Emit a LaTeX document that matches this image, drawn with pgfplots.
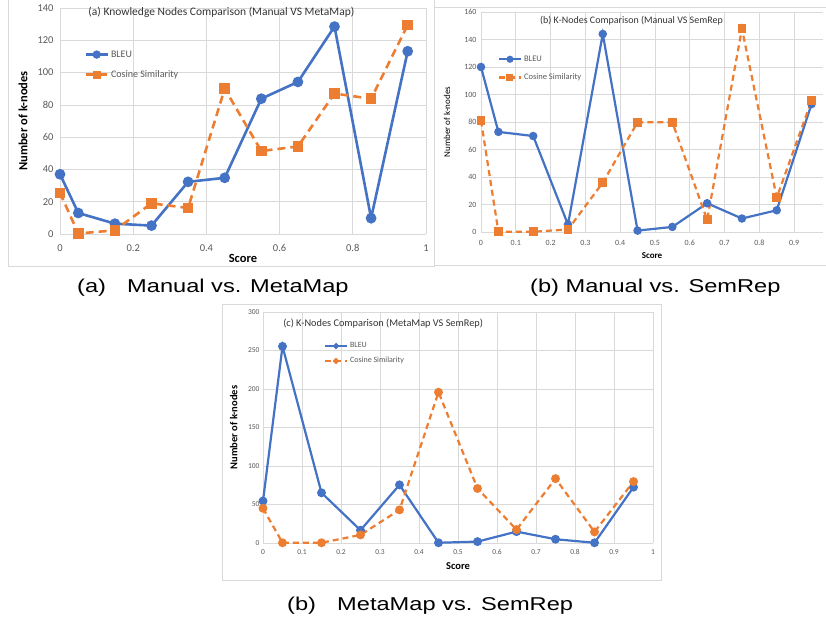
\documentclass[border=0pt]{standalone}
\usepackage{pgfplots}
\pgfplotsset{compat=1.18}
\usepackage{graphicx}
\usepackage{fontspec}
\setmainfont{Carlito}
\newfontfamily\arialfont{Liberation Sans}
\definecolor{cblue}{HTML}{4472C4}
\definecolor{corange}{HTML}{ED7D31}
\definecolor{gridc}{HTML}{D9D9D9}
\definecolor{tickc}{HTML}{595959}
\definecolor{framec}{HTML}{D9D9D9}

\pgfplotstableread{
x     bleu   cos
0     37     25.5
0.05  13     0.3
0.15  6.4    2.3
0.25  5.2    19
0.35  32.3   16.1
0.45  34.8   90
0.55  83.8   51.4
0.65  94.2   54.2
0.75  128.5  87
0.85  9.8    83.8
0.95  113.2  129.5
}\dataA
\pgfplotstableread{
x     bleu   cos
0     120    81
0.05  72.8   0.2
0.15  69.8   0.2
0.25  5.4    1.8
0.35  144    35.9
0.45  1      79.8
0.55  3.7    79.8
0.65  20.9   8.8
0.75  9.8    147.8
0.85  15.8   25
0.95  93     95.6
}\dataB
\pgfplotstableread{
x     bleu   cos
0     54.6   45
0.05  255.4  0.3
0.15  65.2   0.3
0.25  16.6   10.5
0.35  75.5   43
0.45  0.3    195.8
0.55  1.8    70.8
0.65  14.8   17.4
0.75  4.9    83.6
0.85  0.3    14.4
0.95  72.5   79.8
}\dataC

\pgfplotsset{
  excel/.style={
    scale only axis,
    anchor=south west,
    axis x line*=bottom,
    axis y line*=left,
    y axis line style={draw=none},
    x axis line style={draw=gridc, line width=0.8pt},
    major tick length=0pt,
    grid=major,
    grid style={gridc, line width=0.7pt},
    ticklabel style={text=tickc},
    /pgf/number format/assume math mode=true,
    clip=false,
    legend cell align=left,
  },
  legmark/.style={legend image code/.code={\draw[mark repeat=2,mark phase=2,##1,mark size=#1] plot coordinates {(0pt,0pt) (11pt,0pt) (22pt,0pt)};}},
}

\begin{document}
\begin{tikzpicture}[x=1pt,y=1pt]
\path[use as bounding box] (0,0) rectangle (826,618);
% frames
\draw[framec, line width=0.8pt] (8,618) -- (8,352) -- (434,352) -- (434,618);
\draw[framec, line width=0.8pt] (434,353) -- (434,611) -- (826,611);
\draw[framec, line width=0.8pt] (434,353) -- (826,353);
\draw[framec, line width=0.8pt] (222,38) rectangle (661,314);

% ---------- (a) ----------
\begin{axis}[excel, legmark=2.8pt,
  at={(60pt,384pt)},
  width=366pt, height=226pt,
  xmin=0, xmax=1, ymin=0, ymax=140,
  xtick={0,0.2,0.4,0.6,0.8,1},
  ytick={0,20,40,60,80,100,120,140},
  ticklabel style={font=\fontsize{10.5}{12}\selectfont},
  xticklabel style={yshift=-7pt},
  yticklabel style={xshift=-3pt},
  xlabel={\textbf{Score}},
  ylabel={\textbf{Number of k-nodes}},
  label style={font=\fontsize{12.5}{14}\selectfont, text=black},
  xlabel style={at={(axis description cs:0.5,-0.106)}, anchor=center},
  ylabel style={at={(axis description cs:-0.101,0.5)}, anchor=center},
  legend style={at={(axis description cs:0.058,0.83)}, anchor=north west, draw=none, fill=none,
     font=\fontsize{10}{12}\selectfont, text=tickc, row sep=8pt},
]
\node[font=\fontsize{11.5}{12}\selectfont, text=black!80] at (axis description cs:0.441,0.979) {(a) Knowledge Nodes Comparison (Manual VS MetaMap)};
\addplot[cblue, line width=2.6pt, mark=*, mark size=4pt] table[x=x,y=bleu]{\dataA};
\addlegendentry{BLEU}
\addplot[corange, line width=2.6pt, dash pattern=on 8pt off 5pt, mark=square*, mark size=4pt, mark options={solid}] table[x=x,y=cos]{\dataA};
\addlegendentry{Cosine Similarity}
\end{axis}

% ---------- (b) ----------
\begin{axis}[excel, legmark=2.4pt,
  at={(481pt,386pt)},
  width=342pt, height=220pt,
  xmin=0, xmax=0.983, ymin=0, ymax=160,
  xtick={0,0.1,0.2,0.3,0.4,0.5,0.6,0.7,0.8,0.9},
  ytick={0,20,40,60,80,100,120,140,160},
  ticklabel style={font=\fontsize{8}{10}\selectfont},
  xticklabel style={yshift=-5pt},
  yticklabel style={xshift=-1pt},
  xlabel={\textbf{Score}},
  ylabel={Number of k-nodes},
  label style={font=\fontsize{9}{10}\selectfont, text=black},
  xlabel style={at={(axis description cs:0.5,-0.109)}, anchor=center},
  ylabel style={at={(axis description cs:-0.099,0.5)}, anchor=center},
  legend style={at={(axis description cs:0.04,0.82)}, anchor=north west, draw=none, fill=none,
     font=\fontsize{8.5}{10}\selectfont, text=tickc, row sep=7pt},
]
\node[font=\fontsize{10}{11}\selectfont, text=black!80] at (axis description cs:0.44,0.959) {(b) K-Nodes Comparison (Manual VS SemRep};
\addplot[cblue, line width=2.2pt, mark=*, mark size=3.1pt] table[x=x,y=bleu]{\dataB};
\addlegendentry{BLEU}
\addplot[corange, line width=2.2pt, dash pattern=on 6pt off 4pt, mark=square*, mark size=3.3pt, mark options={solid}] table[x=x,y=cos]{\dataB};
\addlegendentry{Cosine Similarity}
\end{axis}

% ---------- (c) ----------
\begin{axis}[excel, legmark=1.8pt,
  at={(263pt,75pt)},
  width=390pt, height=231pt,
  xmin=0, xmax=1, ymin=0, ymax=300,
  xtick={0,0.1,0.2,0.3,0.4,0.5,0.6,0.7,0.8,0.9,1},
  ytick={0,50,100,150,200,250,300},
  ticklabel style={font=\fontsize{7.5}{9}\selectfont},
  xticklabel style={yshift=-3pt},
  xlabel={\textbf{Score}},
  ylabel={\textbf{Number of k-nodes}},
  label style={font=\fontsize{10.5}{12}\selectfont, text=black},
  xlabel style={at={(axis description cs:0.5,-0.1)}, anchor=center},
  ylabel style={at={(axis description cs:-0.075,0.5)}, anchor=center},
  legend style={at={(axis description cs:0.148,0.885)}, anchor=north west, draw=none, fill=none,
     font=\fontsize{8}{9}\selectfont, text=tickc, row sep=4pt},
]
\node[font=\fontsize{10.3}{11}\selectfont, text=black!80] at (axis description cs:0.308,0.952) {(c) K-Nodes Comparison (MetaMap VS SemRep)};
\addplot[cblue, line width=2.2pt, mark=*, mark size=3.3pt] table[x=x,y=bleu]{\dataC};
\addlegendentry{BLEU}
\addplot[corange, line width=2.2pt, dash pattern=on 6pt off 4pt, mark=*, mark size=3.3pt, mark options={solid}] table[x=x,y=cos]{\dataC};
\addlegendentry{Cosine Similarity}
\end{axis}

% captions
\node[anchor=base west, inner sep=0pt] at (77,325) {\scalebox{1.27}[1]{\arialfont\fontsize{18.6}{20}\selectfont (a)}};
\node[anchor=base west, inner sep=0pt] at (127,325) {\scalebox{1.27}[1]{\arialfont\fontsize{18.6}{20}\selectfont Manual vs. MetaMap}};
\node[anchor=base west, inner sep=0pt] at (530,325) {\scalebox{1.27}[1]{\arialfont\fontsize{18.6}{20}\selectfont (b) Manual vs. SemRep}};
\node[anchor=base west, inner sep=0pt] at (287,8) {\scalebox{1.27}[1]{\arialfont\fontsize{18.6}{20}\selectfont (b)}};
\node[anchor=base west, inner sep=0pt] at (337,8) {\scalebox{1.27}[1]{\arialfont\fontsize{18.6}{20}\selectfont MetaMap vs. SemRep}};
\end{tikzpicture}
\end{document}
